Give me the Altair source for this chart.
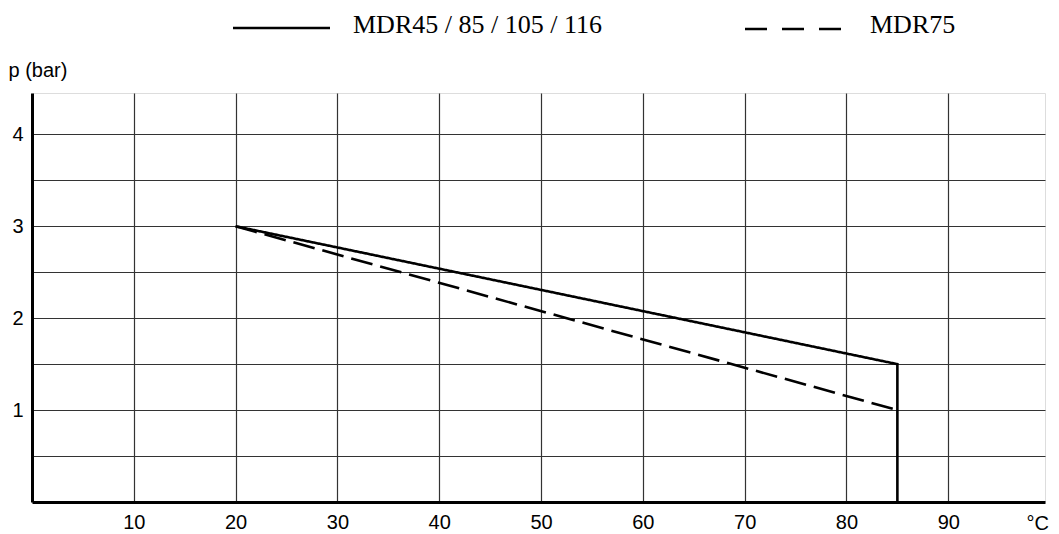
import altair as alt
import pandas as pd

# ---- data ----
series_solid = "MDR45 / 85 / 105 / 116"
series_dash = "MDR75"
solid_x = [20, 85, 85]
solid_y = [3.0, 1.5, 0.0]
dash_x = [20, 85]
dash_y = [3.0, 1.0]

x_ticks = [10, 20, 30, 40, 50, 60, 70, 80, 90]
y_ticks = [0.5, 1, 1.5, 2, 2.5, 3, 3.5, 4]

rows = []
for i, (x, y) in enumerate(zip(solid_x, solid_y)):
    rows.append({"series": series_solid, "t": x, "p": y, "order": i})
for i, (x, y) in enumerate(zip(dash_x, dash_y)):
    rows.append({"series": series_dash, "t": x, "p": y, "order": i})
df = pd.DataFrame(rows)

FONT = "Liberation Sans"
SERIF = "Liberation Serif"

x_scale = alt.Scale(domain=[0, 99.5], nice=False, zero=False)
y_scale = alt.Scale(domain=[0, 4.45], nice=False)

lines = alt.Chart(df).mark_line(strokeWidth=2.6, color="black", strokeCap="butt").encode(
    x=alt.X("t:Q", scale=x_scale,
            axis=alt.Axis(values=x_ticks, title="°C", titleAngle=0, titleAlign="left",
                          titleBaseline="alphabetic", titleX=994, titleY=27,
                          titleFont=FONT, titleFontSize=20, titleFontWeight="normal",
                          titleColor="black", labelFont=FONT, labelFontSize=20,
                          labelColor="black", labelPadding=10, ticks=False,
                          domainColor="black", domainWidth=3,
                          grid=True, gridColor="#333", gridWidth=1.2)),
    y=alt.Y("p:Q", scale=y_scale,
            axis=alt.Axis(values=y_ticks, title="p (bar)", titleAngle=0, titleAlign="left",
                          titleBaseline="alphabetic", titleX=-24, titleY=-17,
                          titleFont=FONT, titleFontSize=20, titleFontWeight="normal",
                          titleColor="black",
                          labelExpr="datum.value % 1 == 0 ? format(datum.value, 'd') : ''",
                          labelFont=FONT, labelFontSize=20, labelColor="black",
                          labelPadding=9, ticks=False,
                          domainColor="black", domainWidth=3,
                          grid=True, gridColor="#333", gridWidth=1.2)),
    strokeDash=alt.StrokeDash("series:N",
                              scale=alt.Scale(domain=[series_solid, series_dash],
                                              range=[[1, 0], [22, 8]]),
                              legend=None),
    order="order:Q",
    detail="series:N",
)

# ---- manual legend at the top ----
leg_solid = alt.Chart(pd.DataFrame({"s": [series_solid]})).mark_rule(
    color="black", strokeWidth=2.6).encode(
    x=alt.value(201), x2=alt.value(298), y=alt.value(-65))
leg_solid_txt = alt.Chart(pd.DataFrame({"s": [series_solid]})).mark_text(
    font=SERIF, fontSize=26, align="left", baseline="alphabetic", color="black").encode(
    x=alt.value(321), y=alt.value(-60), text="s:N")
leg_dash = alt.Chart(pd.DataFrame({"s": [series_dash]})).mark_rule(
    color="black", strokeWidth=2.6, strokeDash=[22, 15]).encode(
    x=alt.value(713), x2=alt.value(810), y=alt.value(-64))
leg_dash_txt = alt.Chart(pd.DataFrame({"s": [series_dash]})).mark_text(
    font=SERIF, fontSize=26, align="left", baseline="alphabetic", color="black").encode(
    x=alt.value(838), y=alt.value(-60), text="s:N")

chart = alt.layer(lines, leg_solid, leg_solid_txt, leg_dash, leg_dash_txt).properties(
    width=1013, height=409,
    padding={"left": 24, "top": 85, "right": 6, "bottom": 32},
    autosize=alt.AutoSizeParams(type="none"),
).configure_view(stroke=None).configure(background="white")

chart.save("out.html", embed_options={"renderer": "svg", "actions": False})
